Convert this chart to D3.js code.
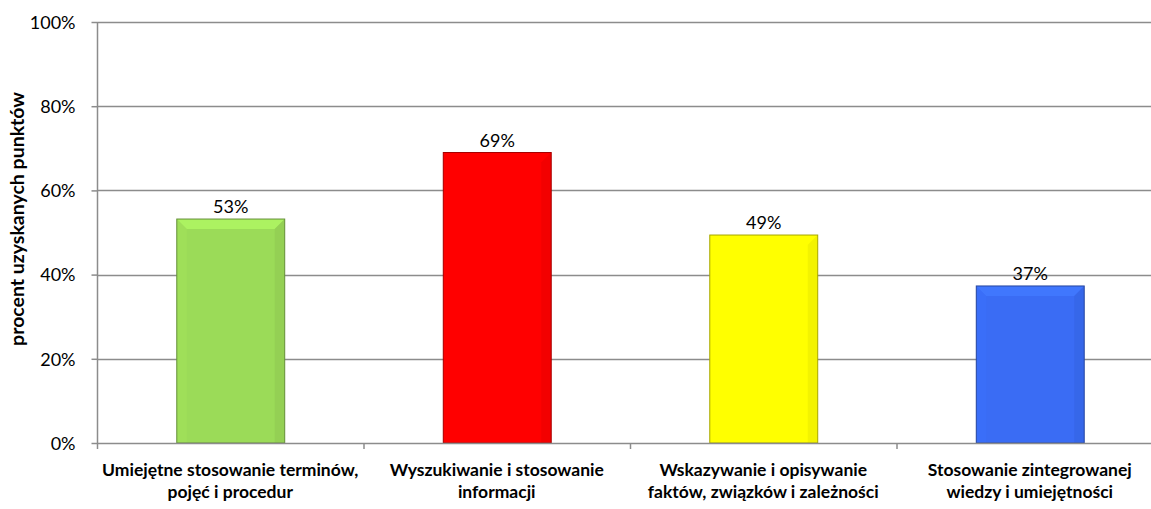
<!DOCTYPE html>
<html><head><meta charset="utf-8">
<script src="https://cdn.jsdelivr.net/npm/d3@7"></script>
<style>
html,body{margin:0;padding:0;background:#fff;overflow:hidden}
svg{display:block}
text{font-family:Lato,"Open Sans",sans-serif;fill:#000}
</style></head><body>
<svg id="c" width="1151" height="509"></svg>
<script>
const categories = [
  ["Umiejętne stosowanie terminów,", "pojęć i procedur"],
  ["Wyszukiwanie i stosowanie", "informacji"],
  ["Wskazywanie i opisywanie", "faktów, związków i zależności"],
  ["Stosowanie zintegrowanej", "wiedzy i umiejętności"]
];
const values = [0.532, 0.69, 0.494, 0.373];
const valueLabels = ["53%", "69%", "49%", "37%"];
const barColors = ["#9BDB58", "#FF0000", "#FFFF00", "#3A6CF4"];
const yTicks = [0, 0.2, 0.4, 0.6, 0.8, 1.0];
const yTickLabels = ["0%", "20%", "40%", "60%", "80%", "100%"];
const yTitle = "procent uzyskanych punktów";

(function(){
const svg = d3.select("#c");
const pL = 97.5, pR = 1163.5, pT = 22, pB = 443;
const x = d3.scaleBand().domain(d3.range(categories.length)).range([pL, pR]).paddingInner(0).paddingOuter(0);
const y = d3.scaleLinear().domain([0, 1]).range([pB, pT]);
const barW = x.bandwidth() * 0.405;

// gridlines
svg.append("g").selectAll("line").data(yTicks.slice(1)).join("line")
  .attr("x1", pL).attr("x2", 1151)
  .attr("y1", d => Math.round(y(d)) + 0.5).attr("y2", d => Math.round(y(d)) + 0.5)
  .attr("stroke", "#8c8c8c").attr("stroke-width", 1.5);

// y axis
const yAxis = d3.axisLeft(y).tickValues(yTicks).tickFormat((d, i) => yTickLabels[i]).tickSize(6).tickPadding(16);
const gy = svg.append("g").attr("transform", `translate(${pL},0)`).call(yAxis);
gy.select(".domain").attr("stroke", "#8c8c8c").attr("stroke-width", 1.5).attr("d", `M0,${pT}V${pB}`);
gy.selectAll(".tick line").attr("stroke", "#8c8c8c").attr("stroke-width", 1.5);
gy.selectAll(".tick text").attr("font-size", 18).attr("fill", "#000").attr("dy", "0.35em").style("font-family", "Lato, 'Open Sans', sans-serif");

// bars
const gb = svg.append("g");
values.forEach((v, i) => {
  const c = d3.color(barColors[i]);
  const cx = x(i) + x.bandwidth() / 2;
  const x0 = cx - barW / 2, x1 = cx + barW / 2;
  const y0 = y(v), y1 = y(0);
  const b = 10;
  const g = gb.append("g");
  g.append("rect").attr("x", x0).attr("y", y0).attr("width", barW).attr("height", y1 - y0).attr("fill", barColors[i]);
  g.append("path").attr("d", `M${x0},${y0}L${x1},${y0}L${x1 - b},${y0 + b}L${x0 + b},${y0 + b}Z`)
    .attr("fill", c.brighter(0.35)).attr("opacity", 0.8);
  g.append("path").attr("d", `M${x0},${y0}L${x0 + b},${y0 + b}L${x0 + b},${y1}L${x0},${y1}Z`)
    .attr("fill", c.brighter(0.15)).attr("opacity", 0.4);
  g.append("path").attr("d", `M${x1},${y0}L${x1 - b},${y0 + b}L${x1 - b},${y1}L${x1},${y1}Z`)
    .attr("fill", c.darker(0.4)).attr("opacity", 0.35);
  g.append("rect").attr("x", x0).attr("y", y0).attr("width", barW).attr("height", y1 - y0)
    .attr("fill", "none").attr("stroke", c.darker(1.2)).attr("stroke-width", 1);
  svg.append("text").attr("x", cx).attr("y", y0 - 6).attr("text-anchor", "middle")
    .attr("font-size", 18).text(valueLabels[i]);
});

// x axis
const gx = svg.append("g").attr("transform", `translate(0,${pB})`);
gx.append("line").attr("x1", pL).attr("x2", 1151).attr("y1", 0.5).attr("y2", 0.5).attr("stroke", "#8c8c8c").attr("stroke-width", 1.5);
gx.selectAll("line.t").data(d3.range(categories.length + 1)).join("line").attr("class", "t")
  .attr("x1", d => pL + d * x.bandwidth()).attr("x2", d => pL + d * x.bandwidth())
  .attr("y1", 0).attr("y2", 6).attr("stroke", "#8c8c8c").attr("stroke-width", 1.5);
categories.forEach((lines, i) => {
  const t = gx.append("text").attr("x", x(i) + x.bandwidth() / 2 - 0.5).attr("text-anchor", "middle")
    .attr("font-size", 17.5).attr("font-weight", "bold");
  lines.forEach((l, j) => t.append("tspan").attr("x", x(i) + x.bandwidth() / 2 - 0.5).attr("y", 33 + j * 22).text(l));
});

// y title
svg.append("text").attr("transform", `translate(24,219) rotate(-90)`)
  .attr("text-anchor", "middle").attr("font-size", 19.5).attr("font-weight", "bold").text(yTitle);
})();
</script>
</body></html>
